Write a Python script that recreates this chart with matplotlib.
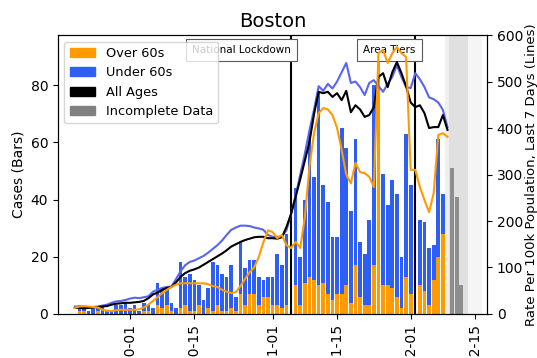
import numpy as np
import pandas as pd
import matplotlib
matplotlib.use("Agg")
import matplotlib.pyplot as plt
import matplotlib.dates as mdates
from matplotlib.patches import Patch

# ---------------- data ----------------
start_date = "2020-09-19"
# daily cases (bars), 2020-09-19 .. 2020-12-08
over60_cases = [0, 1, 1, 0, 0, 1, 0, 0, 0, 0, 0, 0,
                0, 0, 0, 1, 1, 0, 3, 2, 3, 1,
                0, 2, 3, 1, 1, 3, 0, 2, 1, 3,
                1, 1, 2, 1, 7, 3, 7, 7, 3, 6,
                6, 3, 3, 2, 3, 0, 10, 3, 11, 13,
                12, 10, 11, 7, 5, 7, 7, 10, 4, 17,
                6, 3, 3, 17, 91, 10, 10, 9, 6, 2,
                13, 7, 0, 10, 8, 3, 12, 20, 28]
under60_cases = [0, 2, 1, 1, 2, 1, 3, 1, 1, 3, 3, 4,
                 2, 3, 1, 3, 2, 2, 8, 7, 6, 3,
                 2, 16, 10, 13, 11, 7, 5, 7, 17, 14,
                 13, 12, 15, 5, 18, 13, 12, 12, 10, 6,
                 7, 10, 18, 15, 25, 0, 34, 17, 29, 50,
                 36, 68, 34, 32, 22, 20, 58, 48, 32, 44,
                 19, 18, 30, 63, 1, 39, 28, 38, 36, 18,
                 50, 38, 0, 23, 24, 20, 12, 41, 14]
# incomplete data (grey bars)
incomplete_dates = ["2020-12-10", "2020-12-11", "2020-12-12"]
incomplete_cases = [51, 41, 10]

# 7-day rates per 100k (lines), 2020-09-19 .. 2020-12-09
rate_under60 = [16, 16, 14, 14, 15, 16, 18, 20, 24, 27, 28, 30,
                33, 35, 34, 36, 38, 48, 52, 56, 58, 59,
                75, 92, 105, 112, 115, 120, 125, 132, 140, 148,
                158, 170, 181, 186, 190, 190, 189, 186, 184, 181,
                170, 166, 166, 166, 180, 215, 255, 300, 345, 395,
                440, 490, 480, 495, 485, 500, 520, 540, 497, 500,
                488, 471, 497, 503, 490, 478, 495, 510, 535, 510,
                488, 486, 518, 505, 488, 466, 462, 455, 439, 402]
rate_all = [13, 13, 12, 13, 14, 15, 16, 17, 20, 22, 23, 24,
            24, 25, 26, 28, 34, 42, 46, 52, 56, 58,
            68, 80, 88, 93, 96, 100, 106, 112, 118, 124,
            130, 137, 145, 150, 155, 159, 162, 165, 166, 166,
            163, 163, 162, 165, 187, 215, 252, 290, 330, 370,
            430, 478, 475, 478, 467, 475, 460, 480, 434, 449,
            440, 424, 428, 445, 510, 518, 488, 520, 542, 518,
            490, 455, 445, 449, 432, 400, 402, 402, 428, 396]
rate_over60 = [13, 16, 17, 16, 15, 14, 9, 7, 6, 8, 9, 9,
               9, 9, 10, 14, 20, 28, 36, 45, 52, 58,
               63, 66, 66, 66, 66, 66, 66, 64, 60, 58,
               52, 48, 45, 47, 60, 75, 90, 100, 123, 155,
               180, 176, 163, 170, 148, 142, 155, 142, 209, 316,
               389, 432, 443, 440, 428, 400, 353, 300, 281, 325,
               305, 303, 295, 273, 561, 568, 540, 561, 574, 561,
               553, 310, 310, 273, 245, 219, 260, 385, 389, 381]

events = ["National Lockdown", "Area Tiers"]
event_dates = ["2020-11-05", "2020-12-02"]
incomplete_span = ("2020-12-08 12:00", "2020-12-13 12:00", "2020-12-16 12:00")

# ---------------- styles ----------------
c_over = "#ff9a00"
c_under = "#2e5ff2"
c_under_line = "#5865ee"
c_all = "black"
c_grey = "grey"

bar_dates = pd.date_range(start_date, periods=len(over60_cases), freq="D")
line_dates = pd.date_range(start_date, periods=len(rate_all), freq="D")
inc_dates = pd.to_datetime(incomplete_dates)

fig = plt.figure(figsize=(5.37, 3.58), dpi=100)
ax = fig.add_axes([0.108, 0.123, 0.799, 0.779])
ax2 = ax.twinx()

# incomplete-data shading (soft gradient)
s0, s1, s2 = [pd.Timestamp(s) for s in incomplete_span]
ax.axvspan(s0, s0 + pd.Timedelta(hours=20), color=c_grey, alpha=0.12, lw=0, zorder=0)
ax.axvspan(s0 + pd.Timedelta(hours=20), s1, color=c_grey, alpha=0.24, lw=0, zorder=0)
ax.axvspan(s1, s2, color=c_grey, alpha=0.08, lw=0, zorder=0)

ax.bar(bar_dates, over60_cases, width=0.8, color=c_over, zorder=2)
ax.bar(bar_dates, under60_cases, width=0.8, bottom=over60_cases, color=c_under, zorder=2)
ax.bar(inc_dates, incomplete_cases, width=0.8, color=c_grey, alpha=0.85, zorder=2)

for name, d in zip(events, event_dates):
    dt = pd.Timestamp(d)
    ax.axvline(dt, color="black", lw=1.5, zorder=4)
    ax.text(dt, 0.965, name, transform=ax.get_xaxis_transform(), ha="right", va="top",
            fontsize=7.5, zorder=5,
            bbox=dict(boxstyle="square,pad=0.6", fc="white", ec="0.35", lw=0.8))

ax2.plot(line_dates, rate_under60, color=c_under_line, lw=1.5)
ax2.plot(line_dates, rate_all, color=c_all, lw=1.5)
ax2.plot(line_dates, rate_over60, color=c_over, lw=1.5)

ax.set_xlim(pd.Timestamp("2020-10-01") - pd.Timedelta(days=15.65),
            pd.Timestamp("2020-10-01") + pd.Timedelta(days=77.6))
ax.set_ylim(0, 97.5)
ax2.set_ylim(0, 600)
ax.set_yticks([0, 20, 40, 60, 80])
ax2.set_yticks([0, 100, 200, 300, 400, 500, 600])

ax.xaxis.set_major_locator(mdates.DayLocator(bymonthday=[1, 15]))
ax.xaxis.set_major_formatter(mdates.DateFormatter("%Y-%m-%d"))
for lab in ax.get_xticklabels():
    lab.set_rotation(90)

ax.tick_params(labelsize=10)
ax2.tick_params(labelsize=10)
ax.set_ylabel("Cases (Bars)", fontsize=10)
ax2.set_ylabel("Rate Per 100k Population, Last 7 Days (Lines)", fontsize=9.5, labelpad=0)
ax2.yaxis.set_label_coords(1.088, 0.5)
ax.set_title("Boston", fontsize=14)

handles = [Patch(color=c_over, label="Over 60s"),
           Patch(color=c_under, label="Under 60s"),
           Patch(color="black", label="All Ages"),
           Patch(color=c_grey, label="Incomplete Data")]
leg = ax.legend(handles=handles, loc="upper left", fontsize=9.3)
leg.set_zorder(10)

fig.savefig("out.png", dpi=100)
